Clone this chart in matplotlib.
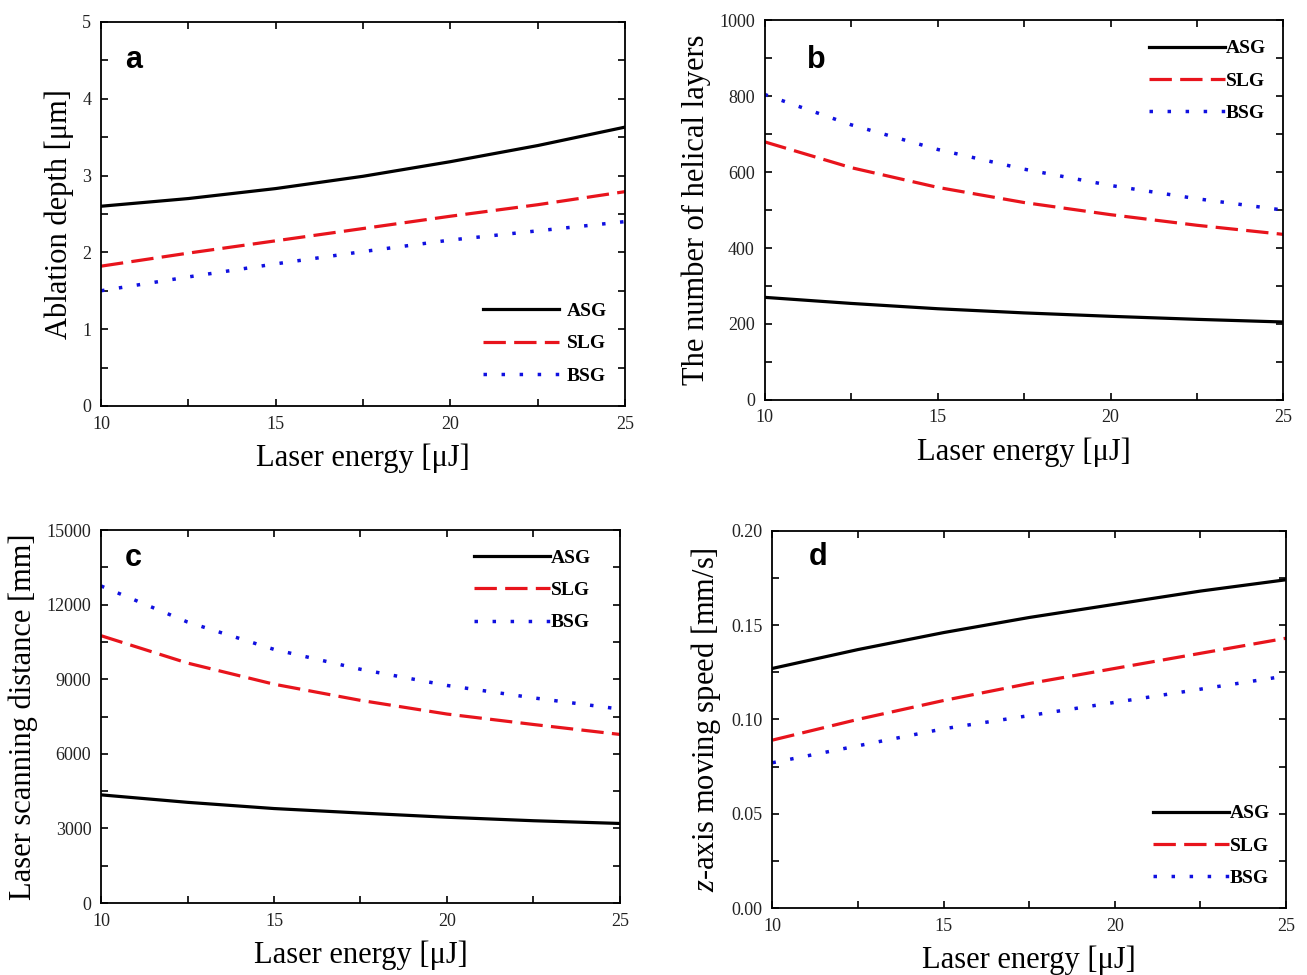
import numpy as np
import matplotlib
matplotlib.use("Agg")
import matplotlib.pyplot as plt
import matplotlib.ticker as ticker

plt.rcParams['font.family'] = ['Liberation Serif', 'DejaVu Serif']
plt.rcParams['mathtext.fontset'] = 'custom'
plt.rcParams['mathtext.it'] = 'Liberation Serif:italic'
plt.rcParams['mathtext.rm'] = 'Liberation Serif'

# laser energy (uJ)
energy = [10, 12.5, 15, 17.5, 20, 22.5, 25]
series_names = ['ASG', 'SLG', 'BSG']

# a: ablation depth [um]
depth_asg = [2.60, 2.70, 2.83, 2.99, 3.18, 3.39, 3.63]
depth_slg = [1.82, 1.99, 2.15, 2.31, 2.47, 2.62, 2.79]
depth_bsg = [1.50, 1.68, 1.85, 2.01, 2.16, 2.28, 2.40]

# b: number of helical layers
layers_asg = [270, 254, 240, 229, 220, 212, 205]
layers_slg = [680, 612, 560, 520, 488, 460, 436]
layers_bsg = [805, 725, 660, 608, 565, 530, 500]

# c: laser scanning distance [mm]
dist_asg = [4350, 4050, 3800, 3620, 3450, 3310, 3200]
dist_slg = [10750, 9650, 8800, 8150, 7600, 7180, 6780]
dist_bsg = [12750, 11300, 10200, 9400, 8750, 8250, 7800]

# d: z-axis moving speed [mm/s]
speed_asg = [0.127, 0.137, 0.146, 0.154, 0.161, 0.168, 0.174]
speed_slg = [0.089, 0.100, 0.110, 0.119, 0.127, 0.135, 0.143]
speed_bsg = [0.077, 0.086, 0.095, 0.102, 0.109, 0.116, 0.123]

styles = [dict(color='black', linestyle='-', lw=2.3),
          dict(color='#e8141c', linestyle=(0, (7.0, 2.6)), lw=2.3),
          dict(color='#1010e0', linestyle=(0, (1, 4.2)), lw=2.5)]

fig = plt.figure(figsize=(13.07, 9.75), dpi=100)

panels = [
    dict(rect=[0.0773, 0.5836, 0.401, 0.394], data=[depth_asg, depth_slg, depth_bsg],
         ylim=(0, 5), major=1, minor=0.5, fmt='%d', ylabel='Ablation depth [μm]',
         letter='a', lxy=(0.062, 0.90), legloc='lower right', legbox=(0.998, 0.01), pad=0.4),
    dict(rect=[0.585, 0.590, 0.397, 0.389], data=[layers_asg, layers_slg, layers_bsg],
         ylim=(0, 1000), major=200, minor=100, fmt='%d', ylabel='The number of helical layers',
         letter='b', lxy=(0.10, 0.895), legloc='upper right', legbox=(1.0, 0.995), pad=0.05),
    dict(rect=[0.0773, 0.0738, 0.397, 0.3826], data=[dist_asg, dist_slg, dist_bsg],
         ylim=(0, 15000), major=3000, minor=1500, fmt='%d', ylabel='Laser scanning distance [mm]',
         letter='c', lxy=(0.062, 0.925), legloc='upper right', legbox=(0.978, 0.995), pad=0.05),
    dict(rect=[0.591, 0.0687, 0.393, 0.387], data=[speed_asg, speed_slg, speed_bsg],
         ylim=(0, 0.2), major=0.05, minor=0.025, fmt='%.2f', ylabel='$z$-axis moving speed [mm/s]',
         letter='d', lxy=(0.088, 0.93), legloc='lower right', legbox=(1.003, 0.01), pad=0.05),
]

for p in panels:
    ax = fig.add_axes(p['rect'])
    for vals, name, st in zip(p['data'], series_names, styles):
        ax.plot(energy, vals, label=name, **st)
    ax.set_xlim(10, 25)
    ax.set_ylim(*p['ylim'])
    ax.xaxis.set_major_locator(ticker.MultipleLocator(5))
    ax.xaxis.set_minor_locator(ticker.MultipleLocator(2.5))
    ax.yaxis.set_major_locator(ticker.MultipleLocator(p['major']))
    ax.yaxis.set_minor_locator(ticker.MultipleLocator(p['minor']))
    ax.yaxis.set_major_formatter(ticker.FormatStrFormatter(p['fmt']))
    ax.tick_params(which='both', direction='in', top=True, right=True,
                   length=5, width=1.2, labelsize=13, labelcolor='#222222', pad=7)
    for s in ax.spines.values():
        s.set_linewidth(1.3)
    ax.set_xlabel('Laser energy [μJ]', fontsize=22, labelpad=8)
    ax.set_ylabel(p['ylabel'], fontsize=22, labelpad=6)
    ax.text(p['lxy'][0], p['lxy'][1], p['letter'], transform=ax.transAxes,
            fontsize=22, fontweight='bold', family='Liberation Sans',
            ha='center', va='center')
    ax.legend(loc=p['legloc'], bbox_to_anchor=p['legbox'], frameon=False,
              handlelength=3.9, handletextpad=p['pad'], labelspacing=0.75,
              prop=dict(family='Liberation Serif', weight='bold', size=14))

fig.savefig('out.png', dpi=100)
